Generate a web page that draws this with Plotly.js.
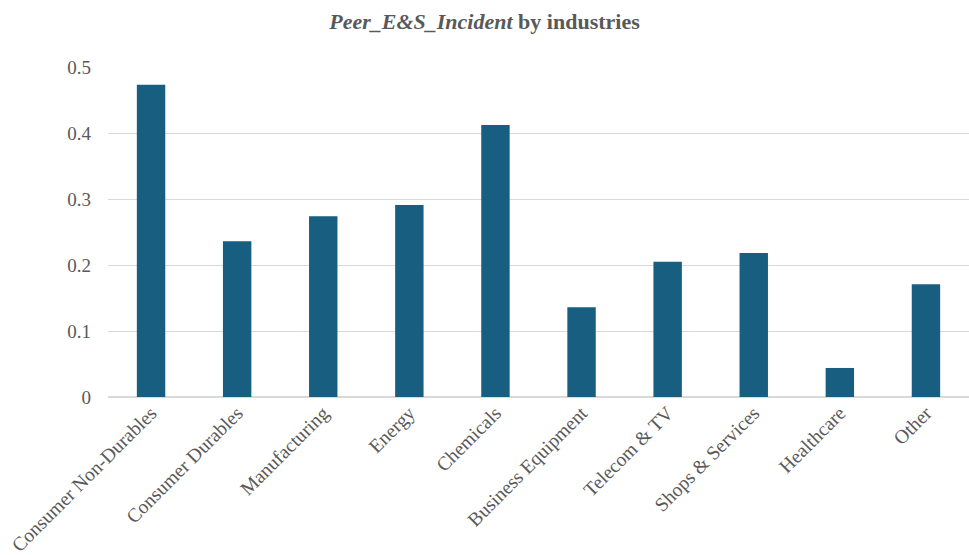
<!DOCTYPE html>
<html><head><meta charset="utf-8">
<script src="https://cdn.plot.ly/plotly-3.0.1.min.js"></script>
<style>html,body{margin:0;padding:0;background:#fff}#chart{width:969px;height:555px}</style>
</head><body><div id="chart"></div>
<script>
const industries = ["Consumer Non-Durables","Consumer Durables","Manufacturing","Energy","Chemicals","Business Equipment","Telecom & TV","Shops & Services","Healthcare","Other"];
const peerESIncident = [0.473,0.236,0.274,0.291,0.412,0.136,0.205,0.218,0.044,0.171];
const yTicks = [0,0.1,0.2,0.3,0.4,0.5];
const yTickText = ["0","0.1","0.2","0.3","0.4","0.5"];

const serif = "Liberation Serif";
Plotly.newPlot("chart", [{
  type: "bar",
  x: industries,
  y: peerESIncident,
  marker: {color: "#175e80"},
  width: 0.33,
  hoverinfo: "x+y"
}], {
  width: 969, height: 555,
  margin: {l: 108, r: 0, t: 67, b: 158},
  paper_bgcolor: "#fff", plot_bgcolor: "#fff",
  font: {family: serif},
  title: {text: "<b><i>Peer_E&S_Incident</i> by industries</b>", x: 0.5, xref: "container", y: 0.962, yanchor: "middle",
          font: {family: serif, size: 22, color: "#595959"}},
  xaxis: {tickangle: -45, tickfont: {family: serif, size: 19.5, color: "#595959"}, showgrid: false,
          showline: false, zeroline: false, ticks: "", automargin: false},
  yaxis: {range: [0, 0.5], tickvals: yTicks, ticktext: yTickText, tickfont: {family: serif, size: 19, color: "#595959"},
          gridcolor: "#d9d9d9", gridwidth: 1.3, zeroline: true, zerolinecolor: "#d9d9d9", zerolinewidth: 1.6,
          showline: false, ticks: "", ticklabelstandoff: 16, automargin: false},
  showlegend: false
}, {displayModeBar: false});
</script></body></html>
